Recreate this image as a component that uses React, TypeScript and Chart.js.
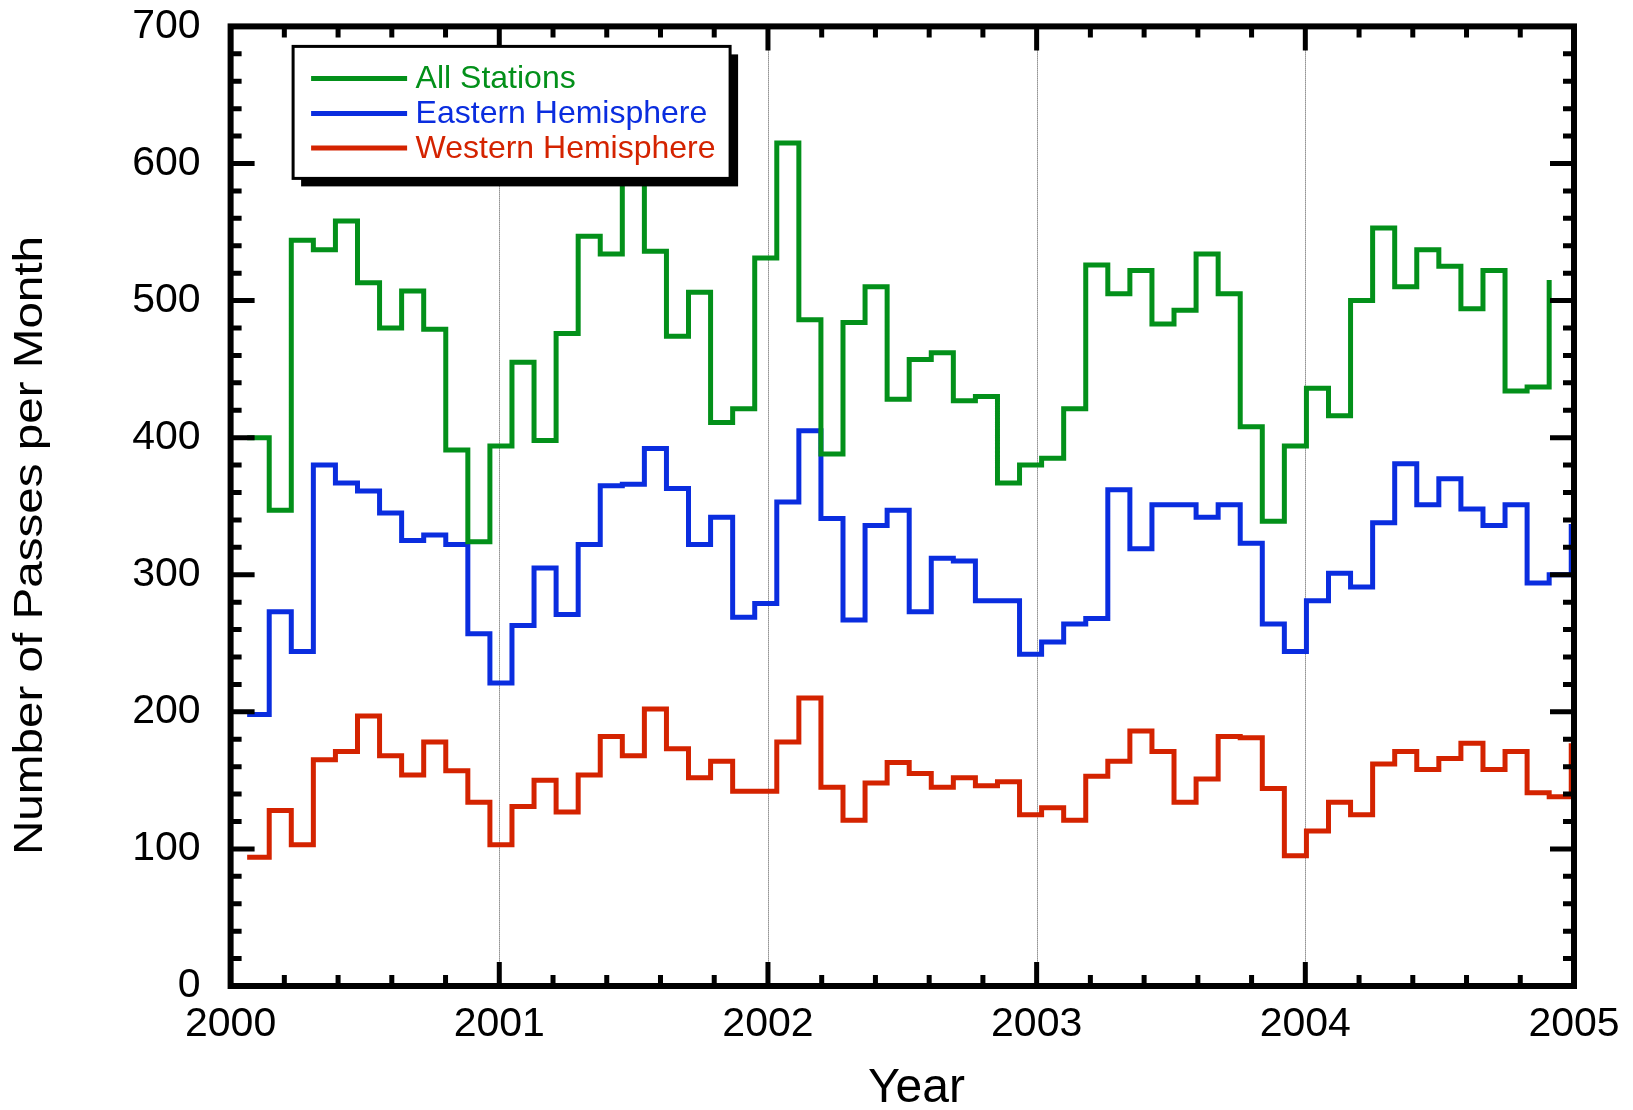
import React, { useEffect, useRef } from 'react';
import { Chart, registerables } from 'chart.js';

Chart.register(...registerables);

// ---- data ----
const seriesLabels = ['All Stations', 'Eastern Hemisphere', 'Western Hemisphere'];
const seriesColors = ['#03901a', '#0a2ddf', '#d42300'];

const allStations = [
  400, 347, 544, 537, 558, 513, 480, 507, 479, 391, 324, 394,
  455, 398, 476, 547, 534, 592, 536, 474, 506, 411, 421, 531,
  615, 486, 388, 484, 510, 428, 457, 462, 427, 430, 367, 380,
  385, 421, 526, 505, 522, 483, 493, 534, 505, 408, 339, 394,
  436, 416, 500, 553, 510, 537, 525, 494, 522, 434, 437, 515,
];
const easternHemisphere = [
  198, 273, 244, 380, 367, 361, 345, 325, 329, 322, 257, 221,
  263, 305, 271, 322, 365, 366, 392, 363, 322, 342, 269, 279,
  353, 405, 341, 267, 336, 347, 273, 312, 310, 281, 281, 242,
  251, 264, 268, 362, 319, 351, 351, 342, 351, 323, 264, 244,
  281, 301, 291, 338, 381, 351, 370, 348, 336, 351, 294, 300,
  337,
];
const westernHemisphere = [
  94, 128, 103, 165, 171, 197, 168, 154, 178, 157, 134, 103,
  131, 150, 127, 154, 182, 168, 202, 173, 152, 164, 142, 142,
  178, 210, 145, 121, 148, 163, 155, 145, 152, 146, 149, 125,
  130, 121, 153, 164, 186, 171, 134, 151, 182, 181, 144, 95,
  113, 134, 125, 162, 171, 158, 166, 177, 158, 171, 141, 138,
  177,
];

// samples: one every 30 days, first one ~22 days into 2000
const firstSampleDay = 22.5;
const sampleIntervalDays = 30;
const daysPerYear = 365.25;
const startYear = 2000;

const yearTicks = [2000, 2001, 2002, 2003, 2004, 2005];
const valueTicks = [0, 100, 200, 300, 400, 500, 600, 700];

const toPoints = (values: number[]) =>
  values.map((v, i) => ({
    x: startYear + (firstSampleDay + i * sampleIntervalDays) / daysPerYear,
    y: v,
  }));

const FONT = "'Liberation Sans', Arial, Helvetica, sans-serif";

const decorPlugin = {
  id: 'decor',
  beforeDatasetsDraw(chart: any) {
    const { ctx, chartArea: a, scales } = chart;
    const x = scales.x;
    ctx.save();
    ctx.strokeStyle = '#505050';
    ctx.lineWidth = 1;
    ctx.setLineDash([1, 1]);
    yearTicks.slice(1, -1).forEach((yr) => {
      const px = Math.round(x.getPixelForValue(yr)) + 0.5;
      ctx.beginPath();
      ctx.moveTo(px, a.top);
      ctx.lineTo(px, a.bottom);
      ctx.stroke();
    });
    ctx.restore();
  },
  afterDatasetsDraw(chart: any) {
    const { ctx, chartArea: a, scales } = chart;
    const x = scales.x;
    const y = scales.y;
    ctx.save();
    ctx.setLineDash([]);
    ctx.strokeStyle = '#000';
    ctx.lineCap = 'butt';

    // ticks
    const majorLen = 24;
    const minorLen = 11;
    ctx.lineWidth = 5;
    const xmin = yearTicks[0];
    const xmax = yearTicks[yearTicks.length - 1];
    for (let k = 0; k <= (xmax - xmin) * 5; k++) {
      const v = xmin + k * 0.2;
      const px = x.getPixelForValue(v);
      const len = k % 5 === 0 ? majorLen : minorLen;
      ctx.beginPath();
      ctx.moveTo(px, a.bottom);
      ctx.lineTo(px, a.bottom - len);
      ctx.moveTo(px, a.top);
      ctx.lineTo(px, a.top + len);
      ctx.stroke();
    }
    const ymax = valueTicks[valueTicks.length - 1];
    for (let v = 0; v <= ymax; v += 20) {
      const py = y.getPixelForValue(v);
      const len = v % 100 === 0 ? majorLen : minorLen;
      ctx.beginPath();
      ctx.moveTo(a.left, py);
      ctx.lineTo(a.left + len, py);
      ctx.moveTo(a.right, py);
      ctx.lineTo(a.right - len, py);
      ctx.stroke();
    }

    // frame
    ctx.lineWidth = 6;
    ctx.lineJoin = 'miter';
    ctx.strokeRect(a.left, a.top, a.right - a.left, a.bottom - a.top);

    // legend
    const bx = a.left + 62.5;
    const by = a.top + 20;
    const bw = 437;
    const bh = 132;
    const sh = 8;
    ctx.fillStyle = '#000';
    ctx.fillRect(bx + sh, by + sh, bw, bh);
    ctx.fillStyle = '#fff';
    ctx.fillRect(bx, by, bw, bh);
    ctx.lineWidth = 3;
    ctx.strokeRect(bx, by, bw, bh);
    const rows = [32, 67, 101.6];
    chart.data.datasets.forEach((ds: any, i: number) => {
      const ry = by + rows[i];
      ctx.strokeStyle = ds.borderColor;
      ctx.lineWidth = 5;
      ctx.beginPath();
      ctx.moveTo(bx + 18, ry);
      ctx.lineTo(bx + 114, ry);
      ctx.stroke();
      ctx.fillStyle = ds.borderColor;
      ctx.font = `32px ${FONT}`;
      ctx.textAlign = 'left';
      ctx.textBaseline = 'middle';
      ctx.fillText(ds.label, bx + 122.5, ry + 1);
    });
    ctx.restore();
  },
  afterDraw(chart: any) {
    const { ctx } = chart;
    ctx.save();
    ctx.fillStyle = '#000';
    ctx.font = `48px ${FONT}`;
    ctx.textAlign = 'center';
    ctx.textBaseline = 'alphabetic';
    ctx.fillText('Year', 916.5, 1102);

    ctx.translate(42, 545.5);
    ctx.rotate(-Math.PI / 2);
    ctx.scale(1.19, 1);
    ctx.font = `40px ${FONT}`;
    ctx.fillText('Number of Passes per Month', 0, 0);
    ctx.restore();
  },
};

export default function App() {
  const canvasRef = useRef<HTMLCanvasElement | null>(null);

  useEffect(() => {
    const canvas = canvasRef.current;
    if (!canvas) return;
    const seriesValues = [allStations, easternHemisphere, westernHemisphere];
    const chart = new Chart(canvas, {
      type: 'line',
      data: {
        datasets: seriesValues.map((vals, i) => ({
          label: seriesLabels[i],
          data: toPoints(vals),
          borderColor: seriesColors[i],
          backgroundColor: seriesColors[i],
          borderWidth: 5,
          pointRadius: 0,
          stepped: 'before' as const,
          fill: false,
          borderJoinStyle: 'miter' as const,
          borderCapStyle: 'butt' as const,
        })),
      },
      options: {
        animation: false,
        responsive: false,
        devicePixelRatio: 1,
        layout: { padding: { top: 26.4, right: 59, left: 0, bottom: 0 } },
        plugins: {
          legend: { display: false },
          tooltip: { enabled: false },
        },
        scales: {
          x: {
            type: 'linear',
            min: yearTicks[0],
            max: yearTicks[yearTicks.length - 1],
            afterFit: (s: any) => {
              s.height = 124;
              s.paddingLeft = 0;
              s.paddingRight = 0;
            },
            afterBuildTicks: (s: any) => {
              s.ticks = yearTicks.map((v) => ({ value: v }));
            },
            grid: { display: false, drawTicks: false },
            border: { display: false },
            ticks: {
              autoSkip: false,
              maxRotation: 0,
              padding: 14,
              color: '#000',
              font: { family: FONT, size: 41 },
              callback: (v: any) => String(v),
            },
          },
          y: {
            type: 'linear',
            min: valueTicks[0],
            max: valueTicks[valueTicks.length - 1],
            afterFit: (s: any) => {
              s.width = 230.6;
              s.paddingTop = 0;
              s.paddingBottom = 0;
            },
            afterBuildTicks: (s: any) => {
              s.ticks = valueTicks.map((v) => ({ value: v }));
            },
            grid: { display: false, drawTicks: false },
            border: { display: false },
            ticks: {
              padding: 30,
              color: '#000',
              font: { family: FONT, size: 41 },
              callback: (v: any) => String(v),
            },
          },
        },
      },
      plugins: [decorPlugin],
    });
    return () => chart.destroy();
  }, []);

  return (
    <div
      style={{
        position: 'absolute',
        left: 0,
        top: 0,
        width: 1633,
        height: 1110,
        background: '#fff',
      }}
    >
      <canvas
        ref={canvasRef}
        width={1633}
        height={1110}
        style={{ display: 'block', width: 1633, height: 1110 }}
      />
    </div>
  );
}
